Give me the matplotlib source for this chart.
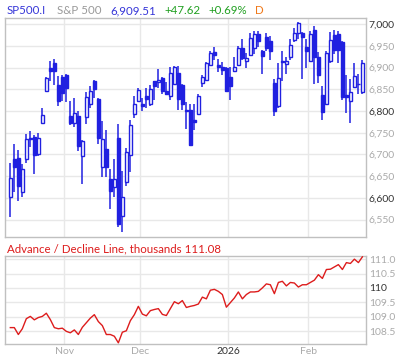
import matplotlib
matplotlib.use("Agg")
import matplotlib.pyplot as plt

plt.rcParams['font.family'] = ['Lato', 'DejaVu Sans']

# --- daten (gelesen aus dem bild) ---
opens = [6603, 6689, 6691, 6614, 6690, 6737, 6741, 6702, 6773, 6845,
         6899, 6910, 6860, 6878, 6883, 6789, 6773, 6789, 6696, 6786,
         6817, 6868, 6828, 6672, 6713, 6643, 6626, 6738, 6558, 6637,
         6698, 6792, 6822, 6815, 6834, 6817, 6868, 6866, 6876, 6845,
         6835, 6863, 6887, 6860, 6803, 6803, 6779, 6794, 6864, 6872,
         6906, 6936, 6906, 6901, 6899, 6878, 6891, 6906, 6944, 6916,
         6928, 6944, 6977, 6939, 6970, 6960, 6865, 6812, 6916, 6908,
         6924, 6964, 6979, 6979, 6948, 6916, 6987, 6924, 6837, 6815,
         6916, 6974, 6977, 6959, 6837, 6822, 6855, 6863, 6843]
highs = [6681, 6725, 6710, 6677, 6746, 6753, 6744, 6750, 6807, 6879,
         6914, 6919, 6881, 6882, 6886, 6822, 6830, 6799, 6733, 6843,
         6857, 6872, 6830, 6776, 6756, 6667, 6690, 6771, 6662, 6715,
         6779, 6834, 6853, 6830, 6853, 6860, 6870, 6896, 6879, 6866,
         6901, 6904, 6904, 6862, 6820, 6817, 6817, 6840, 6883, 6912,
         6937, 6948, 6919, 6912, 6901, 6902, 6924, 6950, 6965, 6933,
         6979, 6985, 6985, 6941, 6979, 6972, 6873, 6911, 6937, 6924,
         6966, 6992, 7004, 6982, 6965, 6983, 6995, 6936, 6857, 6937,
         6982, 6987, 6985, 6961, 6883, 6873, 6911, 6886, 6918]
lows = [6555, 6613, 6593, 6603, 6681, 6718, 6654, 6697, 6772, 6843,
        6868, 6860, 6812, 6822, 6820, 6767, 6764, 6708, 6632, 6769,
        6807, 6830, 6725, 6647, 6649, 6574, 6603, 6532, 6522, 6628,
        6660, 6784, 6820, 6799, 6807, 6811, 6826, 6853, 6838, 6836,
        6825, 6860, 6802, 6802, 6759, 6719, 6757, 6792, 6855, 6868,
        6904, 6918, 6889, 6883, 6843, 6825, 6889, 6904, 6918, 6899,
        6926, 6931, 6947, 6884, 6937, 6918, 6789, 6806, 6870, 6886,
        6918, 6959, 6966, 6873, 6900, 6913, 6861, 6865, 6779, 6813,
        6911, 6931, 6911, 6825, 6796, 6773, 6852, 6840, 6838]
closes = [6645, 6672, 6628, 6666, 6736, 6735, 6699, 6738, 6791, 6876,
          6891, 6891, 6822, 6842, 6853, 6773, 6796, 6719, 6731, 6832,
          6845, 6850, 6738, 6735, 6672, 6616, 6643, 6540, 6603, 6706,
          6767, 6815, 6849, 6811, 6828, 6850, 6857, 6872, 6845, 6840,
          6887, 6901, 6828, 6817, 6800, 6721, 6774, 6835, 6878, 6910,
          6933, 6929, 6902, 6895, 6845, 6858, 6902, 6944, 6921, 6921,
          6968, 6977, 6962, 6926, 6944, 6939, 6799, 6876, 6912, 6915,
          6951, 6979, 7002, 6970, 6939, 6977, 6924, 6883, 6798, 6934,
          6964, 6941, 6941, 6832, 6832, 6844, 6880, 6862, 6909.51]

# advance / decline linie in tausend
ad_line = [108.62, 108.62, 108.38, 108.58, 108.93, 109.01, 108.89, 108.97, 109.01, 109.12,
           108.90, 108.62, 108.58, 108.60, 108.49, 108.44, 108.54, 108.38, 108.63, 108.79,
           108.95, 109.07, 108.83, 108.69, 108.38, 108.38, 108.32, 108.09, 108.46, 108.51,
           108.86, 109.07, 109.36, 109.09, 109.03, 109.21, 109.25, 109.28, 109.08, 109.04,
           109.28, 109.52, 109.45, 109.56, 109.32, 109.36, 109.39, 109.44, 109.68, 109.62,
           109.92, 109.95, 109.88, 109.77, 109.33, 109.49, 109.65, 109.86, 109.62, 109.77,
           109.86, 109.86, 109.88, 110.00, 110.14, 110.11, 109.80, 110.19, 110.23, 110.07,
           110.19, 110.17, 110.03, 110.11, 110.11, 110.19, 110.27, 110.46, 110.33, 110.64,
           110.65, 110.73, 110.81, 110.64, 110.88, 110.85, 111.00, 110.88, 111.08]

# monatsgrenzen (index des handelstags) und beschriftung
month_pos = [13.5, 32.5, 54.5, 74.5]
month_labels = ['Nov', 'Dec', '2026', 'Feb']
month_major = [False, False, True, False]

price_ticks = [6550, 6600, 6650, 6700, 6750, 6800, 6850, 6900, 6950, 7000]
price_major = [6600, 6800, 7000]
ad_ticks = [108.5, 109.0, 109.5, 110.0, 110.5, 111.0]
ad_tick_labels = ['108.5', '109.0', '109.5', '110', '110.5', '111.0']

blue = '#2020e0'
grid_c = '#e8e8e8'
spine_c = '#c0c0c0'
dark = '#333333'
light = '#aaaaaa'

fig = plt.figure(figsize=(4.0, 3.62), dpi=100)
ax = fig.add_axes([5/400, 1-237/362, 361/400, 219/362])
ax2 = fig.add_axes([5/400, 1-344/362, 361/400, 88.3/362])

n = len(closes)
idx = list(range(n))

# kerzen
for i in idx:
    o, h, l, c = opens[i], highs[i], lows[i], closes[i]
    ax.vlines(i, l, h, color=blue, linewidth=1.1, zorder=2)
    if c >= o:
        ax.bar(i, max(c - o, 0.5), bottom=o, width=0.62, facecolor='white',
               edgecolor=blue, linewidth=1.0, zorder=3)
    else:
        ax.bar(i, o - c, bottom=c, width=0.62, facecolor=blue,
               edgecolor=blue, linewidth=1.0, zorder=3)

ax.set_xlim(-1.33, 88.9)
ax.set_ylim(6510, 7014)

# A/D linie
ax2.plot(idx, ad_line, color='#dd1c1c', linewidth=1.0, zorder=3)
ax2.set_xlim(-1.33, 88.9)
ax2.set_ylim(108.05, 111.12)

for a in (ax, ax2):
    for s in a.spines.values():
        s.set_color(spine_c)
        s.set_linewidth(1.0)
    for p in month_pos:
        a.axvline(p, color=grid_c, linewidth=1.0, zorder=0)
    a.yaxis.tick_right()
    a.tick_params(axis='both', length=0, pad=2)

for t in price_ticks:
    ax.axhline(t, color=grid_c, linewidth=1.0, zorder=0)
ax.set_yticks(price_ticks)
ax.set_yticklabels([f'{t:,}' for t in price_ticks], fontsize=7.5)
for lab, t in zip(ax.get_yticklabels(), price_ticks):
    lab.set_color(dark if t in price_major else light)
ax.set_xticks([])

for t in ad_ticks:
    ax2.axhline(t, color=grid_c, linewidth=1.0, zorder=0)
ax2.set_yticks(ad_ticks)
ax2.set_yticklabels(ad_tick_labels, fontsize=7.5)
for lab, t in zip(ax2.get_yticklabels(), ad_ticks):
    lab.set_color(dark if t == 110.0 else light)
ax2.set_xticks(month_pos)
ax2.set_xticklabels(month_labels, fontsize=7.5)
for lab, m in zip(ax2.get_xticklabels(), month_major):
    lab.set_color(dark if m else light)

# kopfzeile
hy = 1 - 14/362
fig.text(7/400, hy, 'SP500.I', color='#3535d8', fontsize=8.3, va='baseline')
fig.text(57/400, hy, 'S&P 500', color='#999999', fontsize=8.3, va='baseline')
fig.text(110/400, hy, '6,909.51', color='#3535d8', fontsize=8.3, va='baseline')
fig.text(164/400, hy, '+47.62', color='#22a022', fontsize=8.3, va='baseline')
fig.text(208/400, hy, '+0.69%', color='#22a022', fontsize=8.3, va='baseline')
fig.text(255/400, hy, 'D', color='#f07818', fontsize=8.3, va='baseline')

fig.text(7/400, 1 - 252.3/362, 'Advance / Decline Line, thousands 111.08',
         color='#dd1c1c', fontsize=8.3, va='baseline')

fig.savefig('out.png', dpi=100)
